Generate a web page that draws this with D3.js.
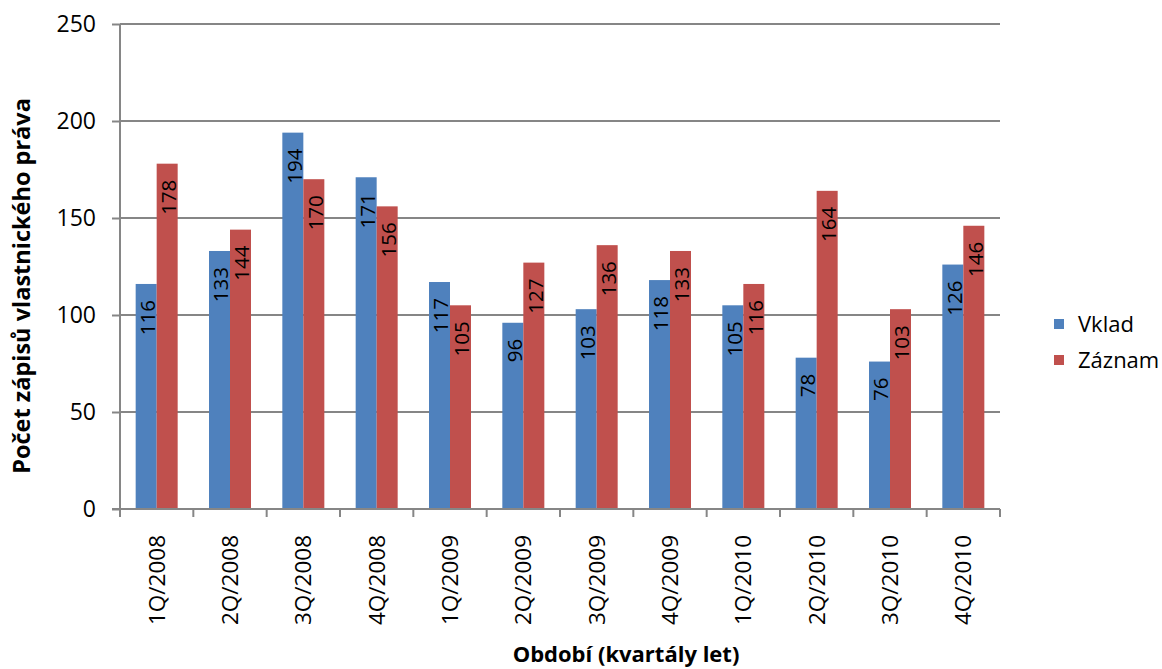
<!DOCTYPE html>
<html>
<head>
<meta charset="utf-8">
<script src="https://cdn.jsdelivr.net/npm/d3@7"></script>
<style>
  html, body { margin: 0; padding: 0; background: #ffffff; }
  svg { display: block; font-family: "Open Sans", "Noto Sans", sans-serif; }
</style>
</head>
<body>
<svg id="chart" width="1162" height="669"></svg>
<script>
// Quarterly periods and the number of ownership-right entries per type
const categories = ["1Q/2008", "2Q/2008", "3Q/2008", "4Q/2008",
                    "1Q/2009", "2Q/2009", "3Q/2009", "4Q/2009",
                    "1Q/2010", "2Q/2010", "3Q/2010", "4Q/2010"];
const seriesNames = ["Vklad", "Záznam"];
const vklad  = [116, 133, 194, 171, 117, 96, 103, 118, 105, 78, 76, 126];
const zaznam = [178, 144, 170, 156, 105, 127, 136, 133, 116, 164, 103, 146];
const yTicks = [0, 50, 100, 150, 200, 250];
const colors = ["#4F81BD", "#C0504D"];

const svg = d3.select("#chart");
const plot = { left: 120, right: 1000, top: 24, bottom: 509 };

const x = d3.scaleBand().domain(categories).range([plot.left, plot.right]).padding(0);
const barW = 21;
const xs = d3.scaleBand().domain(seriesNames).range([-barW, barW]).padding(0);
const y = d3.scaleLinear().domain([0, 250]).range([plot.bottom, plot.top]);

const axisColor = "#868686";

// horizontal gridlines
svg.append("g")
  .selectAll("line")
  .data(yTicks.filter(d => d > 0))
  .join("line")
  .attr("x1", plot.left).attr("x2", plot.right)
  .attr("y1", d => y(d)).attr("y2", d => y(d))
  .attr("stroke", axisColor).attr("stroke-width", 2);

// bars
const rows = categories.map((c, i) => ({ cat: c, values: [vklad[i], zaznam[i]] }));
const groups = svg.append("g")
  .selectAll("g")
  .data(rows)
  .join("g")
  .attr("transform", d => `translate(${x(d.cat) + x.bandwidth() / 2},0)`);

groups.selectAll("rect")
  .data(d => d.values.map((v, k) => ({ name: seriesNames[k], value: v, k })))
  .join("rect")
  .attr("x", d => xs(d.name))
  .attr("width", xs.bandwidth())
  .attr("y", d => y(d.value))
  .attr("height", d => y(0) - y(d.value))
  .attr("fill", d => colors[d.k]);

// rotated value labels inside the top of each bar
groups.selectAll("text")
  .data(d => d.values.map((v, k) => ({ name: seriesNames[k], value: v })))
  .join("text")
  .attr("transform", d => `translate(${xs(d.name) + xs.bandwidth() / 2 + 1.5},${y(d.value) + 16}) rotate(-90)`)
  .attr("text-anchor", "end")
  .attr("dy", "0.36em")
  .attr("font-size", 20.5)
  .attr("fill", "#000")
  .text(d => d.value);

// y axis
const yAxis = svg.append("g")
  .attr("transform", `translate(${plot.left},0)`)
  .call(d3.axisLeft(y).tickValues(yTicks).tickSize(8).tickPadding(16));
yAxis.select(".domain").attr("stroke", axisColor).attr("stroke-width", 2)
  .attr("d", `M0,${plot.top}V${plot.bottom}`);
yAxis.selectAll(".tick line").attr("stroke", axisColor).attr("stroke-width", 2);
yAxis.selectAll(".tick text").attr("font-size", 23).attr("fill", "#000")
  .attr("font-family", "Open Sans, sans-serif");

// x axis with tick marks at category boundaries
const xAxisG = svg.append("g").attr("transform", `translate(0,${plot.bottom})`);
xAxisG.append("line")
  .attr("x1", plot.left - 8).attr("x2", plot.right)
  .attr("stroke", axisColor).attr("stroke-width", 2);
const bounds = categories.map(c => x(c)).concat([plot.right]);
xAxisG.selectAll("line.tk")
  .data(bounds)
  .join("line").attr("class", "tk")
  .attr("x1", d => d).attr("x2", d => d)
  .attr("y1", 0).attr("y2", 8)
  .attr("stroke", axisColor).attr("stroke-width", 2);
xAxisG.selectAll("text")
  .data(categories)
  .join("text")
  .attr("transform", d => `translate(${x(d) + x.bandwidth() / 2},26) rotate(-90)`)
  .attr("text-anchor", "end")
  .attr("dy", "0.36em")
  .attr("font-size", 22.5)
  .attr("fill", "#000")
  .text(d => d);

// axis titles
svg.append("text")
  .attr("transform", "translate(30,286) rotate(-90)")
  .attr("text-anchor", "middle")
  .attr("font-size", 23.5)
  .attr("font-weight", "bold")
  .attr("fill", "#000")
  .text("Počet zápisů vlastnického práva");

svg.append("text")
  .attr("x", 626).attr("y", 662)
  .attr("text-anchor", "middle")
  .attr("font-size", 22)
  .attr("font-weight", "bold")
  .attr("fill", "#000")
  .text("Období (kvartály let)");

// legend
const legend = svg.append("g").attr("transform", "translate(1054,324)");
const li = legend.selectAll("g")
  .data(seriesNames)
  .join("g")
  .attr("transform", (d, i) => `translate(0,${i * 36})`);
li.append("rect")
  .attr("x", 0).attr("y", -5).attr("width", 10).attr("height", 10)
  .attr("fill", (d, i) => colors[i]);
li.append("text")
  .attr("x", 24).attr("dy", "0.36em")
  .attr("font-size", 22)
  .attr("fill", "#000")
  .text(d => d);
</script>
</body>
</html>
